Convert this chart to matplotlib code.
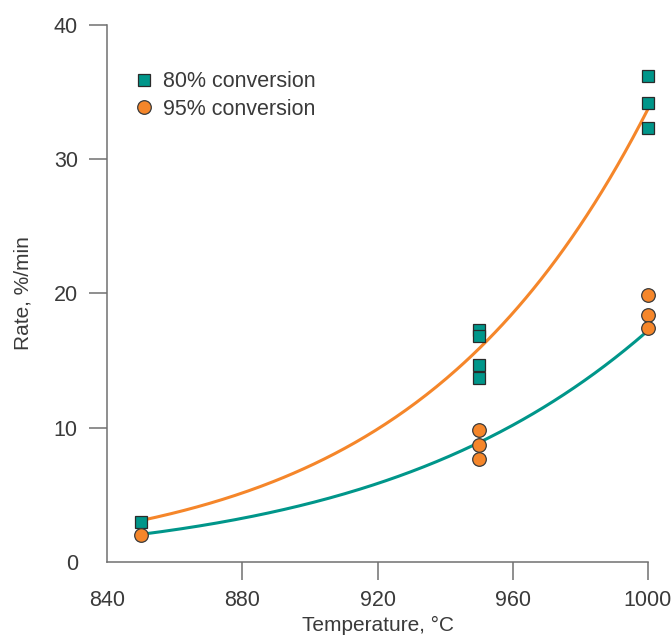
import matplotlib
matplotlib.use("Agg")
import matplotlib.pyplot as plt
import numpy as np

# measured rates
temp_80 = [850, 950, 950, 950, 950, 1000, 1000, 1000]
rate_80 = [3.0, 17.3, 16.8, 14.7, 13.7, 36.2, 34.2, 32.3]
temp_95 = [850, 950, 950, 950, 1000, 1000, 1000]
rate_95 = [2.0, 9.8, 8.7, 7.7, 19.9, 18.4, 17.4]

# trend curves, values
curve_temp = [850, 891, 927, 950, 1000]
curve_80 = [3.08, 6.2, 11.08, 15.8, 33.8]
curve_95 = [2.06, 3.82, 6.43, 8.96, 17.2]

TEAL = "#00968a"
ORANGE = "#f5862a"
TEXT = "#3a3a3a"
AXIS = "#707070"

plt.rcParams["font.family"] = ["Liberation Sans", "DejaVu Sans"]

fig = plt.figure(figsize=(6.71, 6.4), dpi=100)
ax = fig.add_axes([0.1595, 0.1219, 0.8062, 0.8391])

# smooth trend lines (quadratic fit in log space)
tt = np.linspace(850, 1000, 200)
for vals, color in [(curve_80, ORANGE), (curve_95, TEAL)]:
    coef = np.polyfit(curve_temp, np.log(vals), 2)
    ax.plot(tt, np.exp(np.polyval(coef, tt)), color=color, lw=2.2, zorder=2,
            solid_capstyle="round", clip_on=False)

ax.plot(temp_80, rate_80, "s", ms=9, mfc=TEAL, mec="#2a2a2a", mew=0.9,
        ls="none", label="80% conversion", zorder=3, clip_on=False)
ax.plot(temp_95, rate_95, "o", ms=9.8, mfc=ORANGE, mec="#3a3a3a", mew=0.9,
        ls="none", label="95% conversion", zorder=3, clip_on=False)

ax.set_xlim(840, 1000)
ax.set_ylim(0, 40)
ax.set_xticks([840, 880, 920, 960, 1000])
ax.set_yticks([0, 10, 20, 30, 40])

for side in ["top", "right"]:
    ax.spines[side].set_visible(False)
for side in ["left", "bottom"]:
    ax.spines[side].set_color(AXIS)
    ax.spines[side].set_linewidth(1.1)

ax.tick_params(direction="out", length=13, width=1.1, color=AXIS,
               labelsize=15.5, labelcolor=TEXT)
ax.tick_params(axis="x", pad=7)
ax.tick_params(axis="y", pad=8)
ax.yaxis.get_major_ticks()[0].tick1line.set_visible(False)
ax.xaxis.get_major_ticks()[0].tick1line.set_visible(False)

ax.set_xlabel("Temperature, \u00b0C", fontsize=15, color=TEXT, labelpad=4)
ax.set_ylabel("Rate, %/min", fontsize=15, color=TEXT, labelpad=15)

ax.legend(loc="upper left", bbox_to_anchor=(0.008, 0.95), frameon=False,
          fontsize=15.5, handletextpad=0.3, labelspacing=0.3, labelcolor=TEXT,
          handlelength=1.2)

fig.savefig("out.png", dpi=100)
